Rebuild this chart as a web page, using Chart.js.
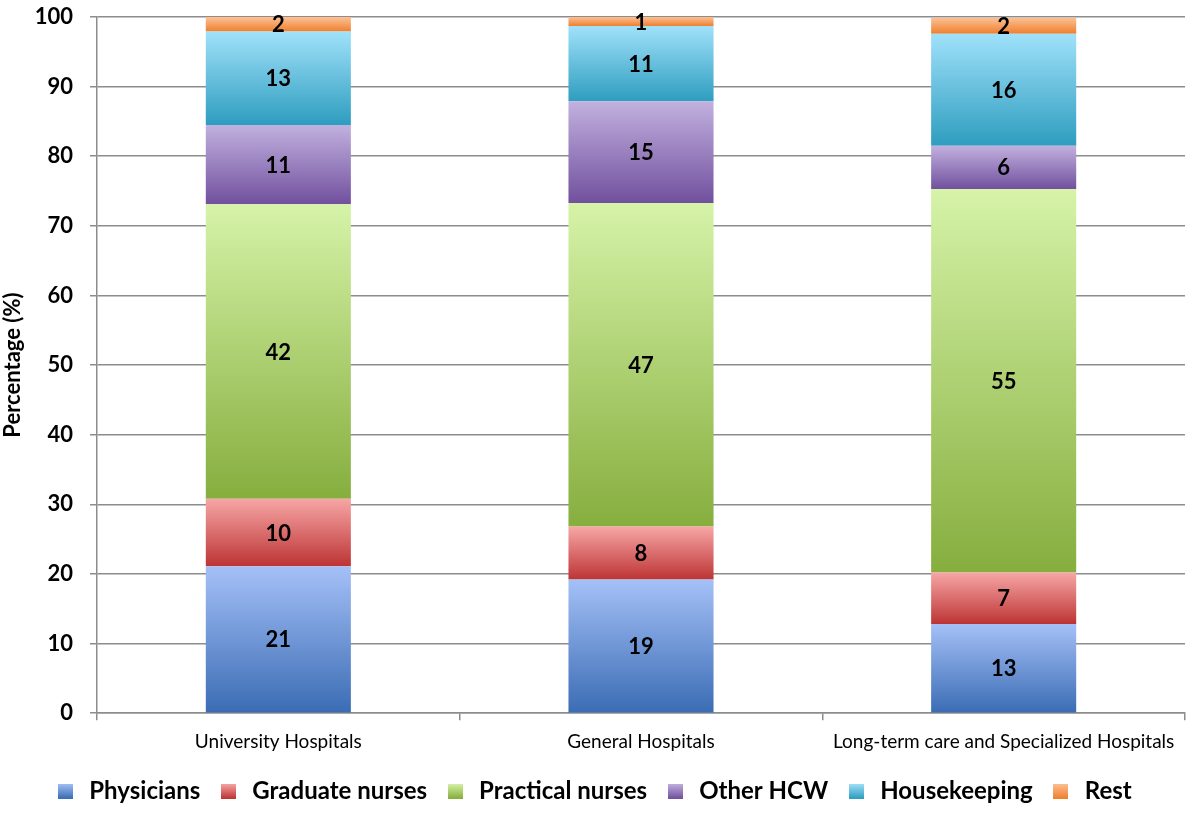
<!DOCTYPE html>
<html>
<head>
<meta charset="utf-8">
<script src="https://cdn.jsdelivr.net/npm/chart.js@4.4.1/dist/chart.umd.min.js"></script>
<style>
  html, body { margin: 0; padding: 0; background: #fff; }
  #wrap { width: 1200px; height: 821px; }
</style>
</head>
<body>
<div id="wrap"><canvas id="chart1"></canvas></div>
<script>
// data
var categories = ['University Hospitals', 'General Hospitals', 'Long-term care and Specialized Hospitals'];
var seriesNames = ['Physicians', 'Graduate nurses', 'Practical nurses', 'Other HCW', 'Housekeeping', 'Rest'];
var physicians = [21.1, 19.2, 12.8];
var graduateNurses = [9.7, 7.6, 7.4];
var practicalNurses = [42.3, 46.5, 55.1];
var otherHCW = [11.4, 14.6, 6.2];
var housekeeping = [13.4, 10.8, 16.1];
var rest = [2.1, 1.3, 2.3];
var yTicks = [0, 10, 20, 30, 40, 50, 60, 70, 80, 90, 100];

var allSeries = [physicians, graduateNurses, practicalNurses, otherHCW, housekeeping, rest];
// [bottom colour, top colour]
var colours = [
  ['#3a6cb4', '#a5c0f7'],
  ['#bd3434', '#f7a6a6'],
  ['#86ae3e', '#d6f3a8'],
  ['#71509e', '#c2b1df'],
  ['#2e9dbf', '#a0e1fa'],
  ['#ef7f2e', '#fcc195']
];

function gradientFor(i) {
  return function(c) {
    var chart = c.chart;
    var y = chart.scales.y;
    if (!y || c.dataIndex === undefined || !chart.chartArea) return colours[i][0];
    var start = 0;
    for (var k = 0; k < i; k++) start += allSeries[k][c.dataIndex];
    var end = start + allSeries[i][c.dataIndex];
    var g = chart.ctx.createLinearGradient(0, y.getPixelForValue(start), 0, y.getPixelForValue(end));
    g.addColorStop(0, colours[i][0]);
    g.addColorStop(1, colours[i][1]);
    return g;
  };
}

function legendBox(i) {
  var cv = document.createElement('canvas');
  cv.width = 15; cv.height = 15;
  var x = cv.getContext('2d');
  var g = x.createLinearGradient(0, 15, 0, 0);
  g.addColorStop(0, colours[i][0]);
  g.addColorStop(1, colours[i][1]);
  x.fillStyle = g;
  x.fillRect(0, 0, 15, 15);
  return cv;
}

var valueLabels = {
  id: 'valueLabels',
  afterDatasetsDraw: function(chart) {
    var ctx = chart.ctx;
    ctx.save();
    ctx.font = 'bold 22px Lato';
    ctx.fillStyle = '#000';
    ctx.textAlign = 'center';
    ctx.textBaseline = 'middle';
    chart.data.datasets.forEach(function(ds, i) {
      var meta = chart.getDatasetMeta(i);
      meta.data.forEach(function(el, j) {
        ctx.fillText(Math.round(ds.data[j]), el.x, (el.y + el.base) / 2 + 1);
      });
    });
    ctx.restore();
  }
};

var datasets = allSeries.map(function(values, i) {
  return {
    label: seriesNames[i],
    data: values,
    backgroundColor: gradientFor(i),
    borderWidth: 0,
    barPercentage: 0.4,
    categoryPercentage: 1.0
  };
});

var ctx = document.getElementById('chart1').getContext('2d');
var myChart = new Chart(ctx, {
  type: 'bar',
  data: { labels: categories, datasets: datasets },
  plugins: [valueLabels],
  options: {
    responsive: true,
    maintainAspectRatio: false,
    animation: false,
    layout: { padding: { top: 17, right: 15, left: 0, bottom: 8 } },
    plugins: {
      tooltip: { enabled: false },
      legend: {
        position: 'bottom',
        labels: {
          usePointStyle: true,
          color: '#000',
          font: { family: 'Lato', size: 24, weight: 'bold' },
          padding: 16,
          generateLabels: function(chart) {
            return seriesNames.map(function(n, i) {
              return { text: n, pointStyle: legendBox(i), datasetIndex: i, lineWidth: 0, fontColor: '#000' };
            });
          }
        }
      }
    },
    scales: {
      x: {
        stacked: true,
        afterFit: function(s) { s.paddingLeft = 0; s.paddingRight = 0; },
        border: { color: '#8c8c8c', width: 1.5 },
        grid: { display: true, drawOnChartArea: false, offset: true, tickLength: 7, color: '#8c8c8c', lineWidth: 1.5 },
        ticks: { color: '#000', padding: 10, font: { family: 'Lato', size: 19 }, maxRotation: 0 }
      },
      y: {
        stacked: true,
        min: 0,
        max: 100,
        afterFit: function(s) { s.width = 97; s.paddingTop = 0; s.paddingBottom = 0; },
        afterBuildTicks: function(s) { s.ticks = yTicks.map(function(v) { return { value: v }; }); },
        border: { color: '#8c8c8c', width: 1.5 },
        grid: { color: '#8c8c8c', lineWidth: 1.5, tickLength: 7 },
        ticks: { color: '#000', padding: 17, font: { family: 'Lato', size: 22, weight: 'bold' } },
        title: { display: true, text: 'Percentage (%)', color: '#000', padding: 0, font: { family: 'Lato', size: 22, weight: 'bold' } }
      }
    }
  }
});
</script>
</body>
</html>
